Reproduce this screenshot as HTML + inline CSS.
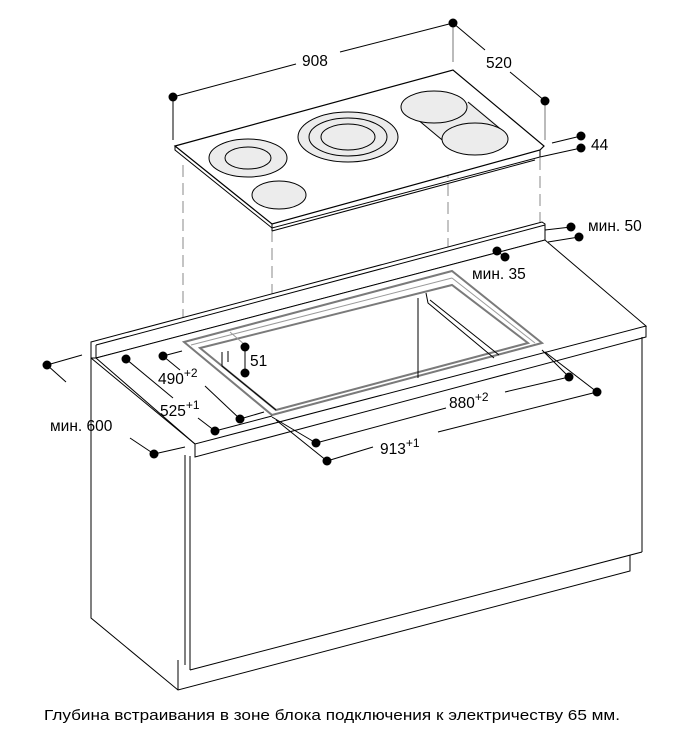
<!DOCTYPE html>
<html><head><meta charset="utf-8"><style>
html,body{margin:0;padding:0;background:#fff;}
svg{display:block;}
text{font-family:"Liberation Sans",sans-serif;fill:#000;}
</style></head><body>
<svg width="692" height="740" viewBox="0 0 692 740" xmlns="http://www.w3.org/2000/svg">
<g fill="none" stroke="#000" stroke-width="1">
<g stroke="#888" stroke-dasharray="12,6">
<line x1="183" y1="165" x2="183" y2="342"/>
<line x1="272" y1="230" x2="272" y2="415"/>
<line x1="448" y1="130" x2="448" y2="280"/>
<line x1="540" y1="158" x2="540" y2="343"/>
</g>
<polygon points="175,146 453,70 544,146 540,150 272,224" fill="#fff" stroke-width="1.2"/>
<polyline points="175,146 175,150 272,228 540,157 540,150"/>
<line x1="272" y1="231" x2="535" y2="160"/>
<line x1="272" y1="224" x2="272" y2="231"/>
<g fill="#ececec">
<ellipse cx="248" cy="158" rx="39" ry="19"/>
<ellipse cx="248" cy="158" rx="23" ry="11"/>
<ellipse cx="279" cy="195" rx="27" ry="14"/>
<ellipse cx="348" cy="137" rx="50" ry="25"/>
<ellipse cx="348" cy="137" rx="39" ry="19"/>
<ellipse cx="348" cy="137" rx="27" ry="13"/>
<path d="M410,112 L446,144 A33,16 0 0 0 508,134 L470,102 Z" stroke="none"/>
<line x1="411" y1="114" x2="447" y2="144"/>
<line x1="468" y1="102" x2="504" y2="132"/>
<ellipse cx="434" cy="107" rx="33" ry="16"/>
<ellipse cx="475" cy="139" rx="33" ry="16"/>
</g>
<line x1="173" y1="97" x2="296" y2="64"/><line x1="340" y1="52" x2="453" y2="23"/>
<line x1="173" y1="97" x2="173" y2="140"/>
<line x1="453" y1="23" x2="453" y2="62" stroke="#777"/>
<line x1="453" y1="23" x2="485" y2="50"/><line x1="510" y1="72" x2="545" y2="101"/>
<line x1="545" y1="101" x2="545" y2="140" stroke="#777"/>
<line x1="552" y1="143" x2="581" y2="136"/><line x1="540" y1="157" x2="581" y2="148"/>
<polygon points="91,342 542,222 545,224 545,240 96,358 91,358" fill="#fff"/>
<line x1="96" y1="345" x2="545" y2="225"/>
<line x1="96" y1="345" x2="96" y2="358"/>
<polygon points="96,358 545,240 646,326 195,444" fill="#fff"/>
<polyline points="91,358 195,444 195,457 646,337 646,326"/>
<polyline points="91,358 91,618 178,690 630,571 630,555"/>
<line x1="178" y1="660" x2="178" y2="690"/>
<line x1="185" y1="455" x2="185" y2="665"/>
<line x1="190" y1="456" x2="190" y2="670"/>
<line x1="190" y1="670" x2="642" y2="552"/>
<line x1="642" y1="337" x2="642" y2="552"/>
<g stroke="#7a7a7a" stroke-width="2">
<polygon points="184,342 452,271 542,343 272,415"/>
<polygon points="200,348 452,285 528,343 276,410"/>
</g>
<g stroke="#9a9a9a" stroke-width="1">
<line x1="191" y1="345" x2="452" y2="278"/>
<line x1="452" y1="278" x2="535" y2="343"/>
<line x1="230" y1="332" x2="245" y2="345"/>
</g>
<line x1="418" y1="298" x2="418" y2="378"/>
<polyline points="222,352 222,366 276,410"/><line x1="228" y1="351" x2="228" y2="362"/>
<polyline points="426,293 428,303 494,358"/><line x1="430" y1="300" x2="499" y2="355"/>
<line x1="545" y1="230" x2="571" y2="227"/><line x1="548" y1="242" x2="579" y2="237"/>
<line x1="497" y1="251" x2="505" y2="257"/>
<line x1="245" y1="347" x2="245" y2="373"/>
<line x1="163" y1="356" x2="182" y2="351"/>
<line x1="163" y1="356" x2="180" y2="370"/><line x1="205" y1="386" x2="240" y2="419"/>
<line x1="240" y1="419" x2="264" y2="412"/>
<line x1="126" y1="359" x2="173" y2="398"/><line x1="198" y1="418" x2="215" y2="431"/>
<line x1="215" y1="431" x2="272" y2="416"/>
<line x1="47" y1="365" x2="82" y2="355"/>
<line x1="47" y1="365" x2="66" y2="382"/><line x1="130" y1="438" x2="154" y2="454"/>
<line x1="154" y1="454" x2="185" y2="447"/>
<line x1="542" y1="350" x2="569" y2="377"/>
<line x1="569" y1="377" x2="505" y2="392"/><line x1="446" y1="408" x2="316" y2="443"/>
<line x1="272" y1="417" x2="316" y2="443"/>
<line x1="545" y1="352" x2="597" y2="392"/>
<line x1="597" y1="392" x2="438" y2="432"/><line x1="373" y1="447" x2="327" y2="461"/>
<line x1="276" y1="420" x2="327" y2="461"/>
</g>
<g fill="#000">
<circle cx="173" cy="97" r="4.5"/><circle cx="453" cy="23" r="4.5"/><circle cx="545" cy="101" r="4.5"/>
<circle cx="581" cy="136" r="4.5"/><circle cx="581" cy="148" r="4.5"/>
<circle cx="571" cy="227" r="4.5"/><circle cx="579" cy="237" r="4.5"/>
<circle cx="497" cy="251" r="4.5"/><circle cx="505" cy="257" r="4.5"/>
<circle cx="245" cy="347" r="4.5"/><circle cx="245" cy="373" r="4.5"/>
<circle cx="163" cy="356" r="4.5"/><circle cx="240" cy="419" r="4.5"/>
<circle cx="126" cy="359" r="4.5"/><circle cx="215" cy="431" r="4.5"/>
<circle cx="47" cy="365" r="4.5"/><circle cx="154" cy="454" r="4.5"/>
<circle cx="569" cy="377" r="4.5"/><circle cx="316" cy="443" r="4.5"/>
<circle cx="597" cy="392" r="4.5"/><circle cx="327" cy="461" r="4.5"/>
</g>
<g font-size="15.5">
<text x="302" y="66">908</text>
<text x="486" y="68">520</text>
<text x="591" y="150">44</text>
<text x="588" y="231">мин. 50</text>
<text x="472" y="279">мин. 35</text>
<text x="250" y="366">51</text>
<text x="158" y="384">490<tspan dy="-7" font-size="12">+2</tspan></text>
<text x="160" y="416">525<tspan dy="-7" font-size="12">+1</tspan></text>
<text x="50" y="431">мин. 600</text>
<text x="449" y="408">880<tspan dy="-7" font-size="12">+2</tspan></text>
<text x="380" y="454">913<tspan dy="-7" font-size="12">+1</tspan></text>
<text x="44" y="720" font-size="15" textLength="576" lengthAdjust="spacingAndGlyphs">Глубина встраивания в зоне блока подключения к электричеству 65 мм.</text>
</g>
</svg>
</body></html>
